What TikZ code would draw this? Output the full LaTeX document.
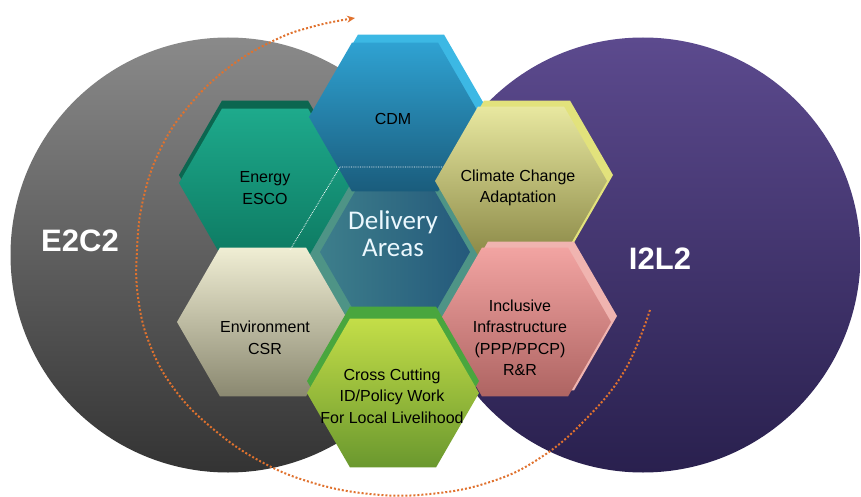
\documentclass[tikz,border=0pt]{standalone}
\usepackage{fontspec}
\setmainfont{Liberation Sans}
\newfontfamily\delfont{Carlito}
\usepackage{xcolor}
\usetikzlibrary{shapes.geometric, arrows.meta, calc}

\definecolor{graytop}{HTML}{8A8A8A}
\definecolor{graybot}{HTML}{333333}
\definecolor{purptop}{HTML}{5C4A8E}
\definecolor{purpbot}{HTML}{29204E}
\definecolor{arcorange}{HTML}{E0722E}
\definecolor{cdmtop}{HTML}{2FA2D2}
\definecolor{cdmbot}{HTML}{1A5C7C}
\definecolor{cdmside}{HTML}{3CB8E4}
\definecolor{energytop}{HTML}{1EAA8C}
\definecolor{energybot}{HTML}{0D7A62}
\definecolor{energyside}{HTML}{0C6650}
\definecolor{climtop}{HTML}{E8E8A0}
\definecolor{climbot}{HTML}{8C8A48}
\definecolor{climside}{HTML}{E2E27C}
\definecolor{envtop}{HTML}{F0EED4}
\definecolor{envbot}{HTML}{8A8870}
\definecolor{incltop}{HTML}{F2A4A2}
\definecolor{inclbot}{HTML}{AE6462}
\definecolor{inclside}{HTML}{F0B4B0}
\definecolor{crosstop}{HTML}{C4DE48}
\definecolor{crossbot}{HTML}{6A982E}
\definecolor{crossside}{HTML}{49A63E}
\definecolor{midrim}{HTML}{4E9486}
\definecolor{midleft}{HTML}{3D7E8B}
\definecolor{midright}{HTML}{24597B}

\tikzset{
  ring/.style={circle, inner sep=0pt, minimum size=435pt},
  hexa/.style={regular polygon, regular polygon sides=6, inner sep=0pt, minimum size=172pt},
  hexlabel/.style={align=center, text=black, font=\fontsize{16}{21.5}\selectfont},
  ringlabel/.style={text=white, font=\fontsize{31}{31}\selectfont\bfseries},
  looparrow/.style={draw=arcorange, line width=2pt, dotted, -{Stealth[length=8pt,width=7pt]}}
}

\begin{document}
\begin{tikzpicture}[x=1pt, y=-1pt]
\useasboundingbox (0,0) rectangle (861,497);
% the two circles
\node[ring, top color=graytop, bottom color=graybot] (e2c2ring) at (228,255) {};
\node[ring, top color=purptop, bottom color=purpbot] (i2l2ring) at (643,255) {};
\node[ringlabel] (e2c2) at (80,241) {E2C2};
\node[ringlabel] (i2l2) at (660,259) {I2L2};

% dotted loop round the hexagons
\draw[looparrow] plot[smooth, tension=0.7] coordinates {(650,310) (625,370) (585,420) (540,458) (490,482) (430,494) (370,494) (310,482) (258,460) (212,428) (175,390) (150,345) (138,297) (137,250) (143,200) (160,150) (188,107) (228,68) (275,40) (315,26) (355,18)};

% hexagon centres
\coordinate (pmid) at (395,252);
\coordinate (pcdm) at (395,117);
\coordinate (penergy) at (265,183);
\coordinate (pclim) at (521,181);
\coordinate (penv) at (263,322);
\coordinate (pincl) at (525,322);
\coordinate (pcross) at (393,393);

% sunken centre
\node[hexa, minimum size=176pt, fill=midrim] (midrimhex) at (pmid) {};
\node[hexa, minimum size=150pt, left color=midleft, right color=midright] (mid) at (pmid) {};

% left column
\node[hexa, fill=energyside] (energyside) at ($(penergy)+(0,-8)$) {};
\node[hexa, top color=energytop, bottom color=energybot] (energy) at (penergy) {};
\node[hexa, top color=envtop, bottom color=envbot] (env) at (penv) {};

% top
\node[hexa, fill=cdmside] (cdmside) at ($(pcdm)+(6,-8)$) {};
\node[hexa, top color=cdmtop, bottom color=cdmbot] (cdm) at (pcdm) {};

% seam of the well
\coordinate (seamleft) at (290,250);
\coordinate (seamcorner) at (340,167);
\coordinate (seamright) at (445,167);
\draw[white, densely dotted, line width=0.8pt] (seamleft) -- (seamcorner) -- (seamright);

% right column and bottom
\node[hexa, fill=climside] (climside) at ($(pclim)+(6,-6)$) {};
\node[hexa, top color=climtop, bottom color=climbot] (clim) at (pclim) {};
\node[hexa, fill=inclside] (inclside) at ($(pincl)+(6,-6)$) {};
\node[hexa, top color=incltop, bottom color=inclbot] (incl) at (pincl) {};
\node[hexa, fill=crossside] (crossside) at ($(pcross)+(0,-12)$) {};
\node[hexa, top color=crosstop, bottom color=crossbot] (cross) at (pcross) {};

% labels
\node[align=center, text=white!92!cyan, font=\delfont\fontsize{27}{27}\selectfont] (midtext) at ($(mid)+(-2,-18)$) {Delivery\\Areas};
\node[hexlabel] (cdmtext) at ($(cdm)+(-2,2)$) {CDM};
\node[hexlabel] (energytext) at ($(energy)+(0,5)$) {Energy\\ESCO};
\node[hexlabel] (climtext) at ($(clim)+(-3,7)$) {Climate Change\\Adaptation};
\node[hexlabel] (envtext) at ($(env)+(2,16)$) {Environment\\CSR};
\node[hexlabel] (incltext) at ($(incl)+(-5,16)$) {Inclusive\\Infrastructure\\(PPP/PPCP)\\R\&R};
\node[hexlabel] (crosstext) at ($(cross)+(-1,3)$) {Cross Cutting\\ID/Policy Work\\For Local Livelihood};
\end{tikzpicture}
\end{document}
